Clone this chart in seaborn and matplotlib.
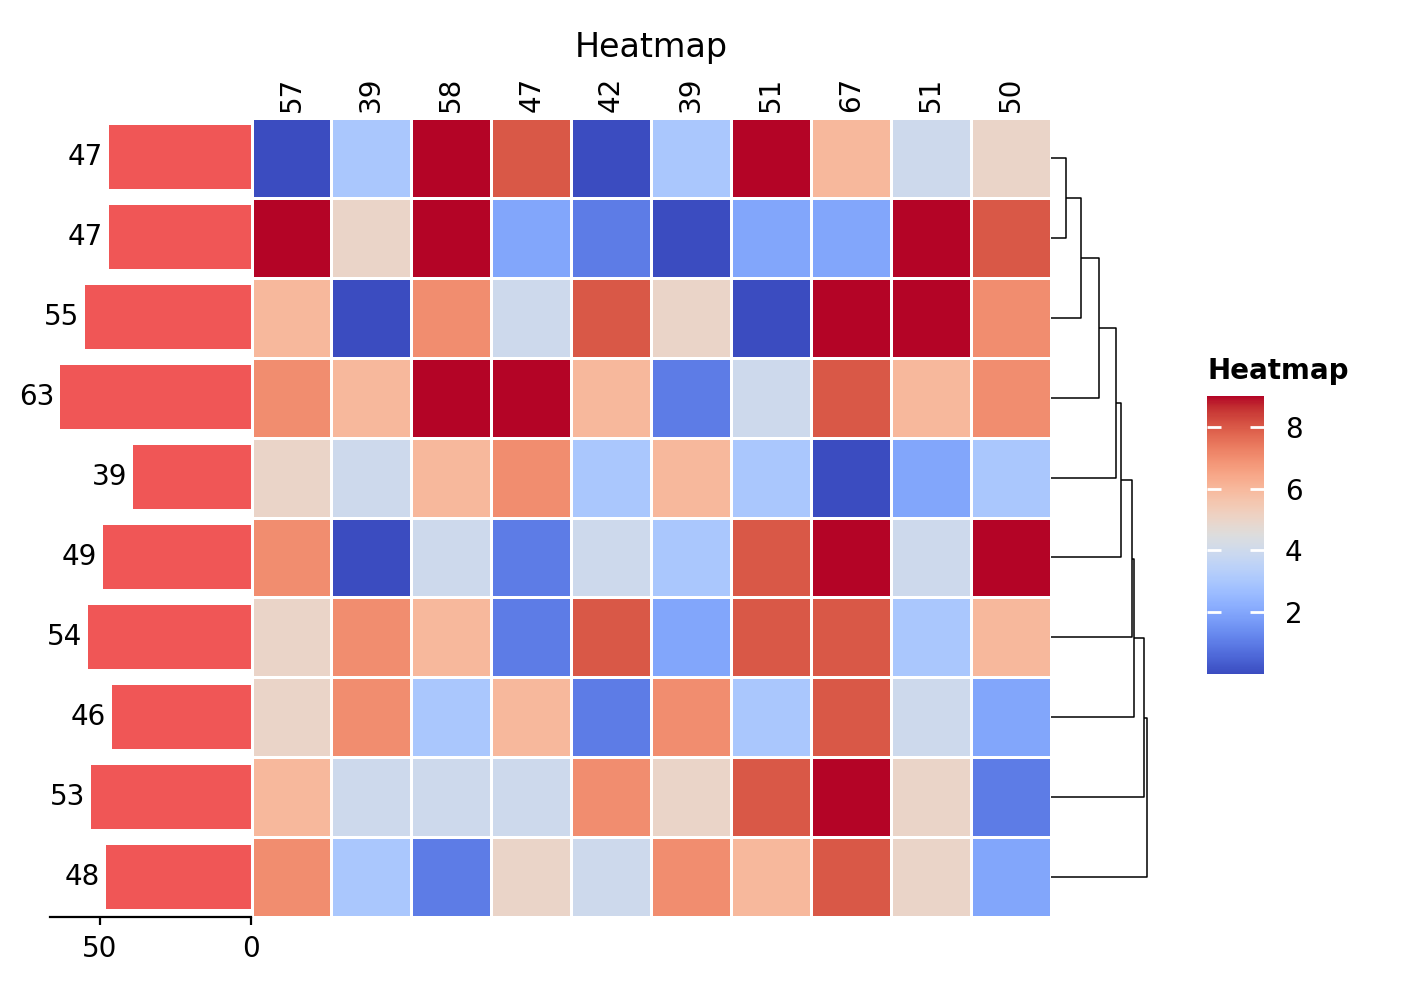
import numpy as np
import pandas as pd
import matplotlib
matplotlib.use("Agg")
import matplotlib.pyplot as plt
import seaborn as sns

# ---- data ----
matrix = [
    [0, 3, 9, 8, 0, 3, 9, 6, 4, 5],
    [9, 5, 9, 2, 1, 0, 2, 2, 9, 8],
    [6, 0, 7, 4, 8, 5, 0, 9, 9, 7],
    [7, 6, 9, 9, 6, 1, 4, 8, 6, 7],
    [5, 4, 6, 7, 3, 6, 3, 0, 2, 3],
    [7, 0, 4, 1, 4, 3, 8, 9, 4, 9],
    [5, 7, 6, 1, 8, 2, 8, 8, 3, 6],
    [5, 7, 3, 6, 1, 7, 3, 8, 4, 2],
    [6, 4, 4, 4, 7, 5, 8, 9, 5, 1],
    [7, 3, 1, 5, 4, 7, 6, 8, 5, 2],
]
row_sums = [47, 47, 55, 63, 39, 49, 54, 46, 53, 48]
col_sums = [57, 39, 58, 47, 42, 39, 51, 67, 51, 50]
# row dendrogram linkage: (node a, node b, merge height)
linkage = [
    (0, 1, 15.7),
    (10, 2, 30.0),
    (11, 3, 48.3),
    (12, 4, 65.3),
    (13, 5, 70.3),
    (14, 6, 81.0),
    (15, 7, 83.3),
    (16, 8, 93.3),
    (17, 9, 96.0),
]
cbar_ticks = [2, 4, 6, 8]
bar_ticks = [0, 50]
title = "Heatmap"
bar_color = "#F05656"

W, H = 1424, 984
fig = plt.figure(figsize=(W / 200, H / 200), dpi=200)

def box(x0, y0, x1, y1):
    return [x0 / W, 1 - y1 / H, (x1 - x0) / W, (y1 - y0) / H]

ax_hm = fig.add_axes(box(251.5, 118, 1050.5, 917))
ax_bar = fig.add_axes(box(50, 117, 251, 916.5))
ax_den = fig.add_axes(box(1050.5, 118, 1150.5, 917))
cax = fig.add_axes(box(1207, 396, 1264, 674))

df = pd.DataFrame(matrix)
sns.heatmap(df, ax=ax_hm, cmap="coolwarm", vmin=0, vmax=9,
            linewidths=1, linecolor="white", cbar_ax=cax,
            xticklabels=col_sums, yticklabels=False)
ax_hm.xaxis.tick_top()
ax_hm.tick_params(axis="x", length=0, pad=2, labelsize=10, labelrotation=90)
ax_hm.set_xlabel("")
ax_hm.set_ylabel("")

# colorbar
cbar = ax_hm.collections[0].colorbar
cbar.set_ticks(cbar_ticks)
cbar.outline.set_visible(False)
cax.tick_params(direction="in", colors="white", length=5, width=1,
                left=True, right=True, labelleft=False, labelright=True,
                pad=7.5, labelsize=10, labelcolor="black")
cax.text(0, 1.04, title, transform=cax.transAxes, ha="left", va="bottom",
         fontsize=10, fontweight="bold")

# left bar chart
bdf = pd.DataFrame({"row": [str(i) for i in range(len(row_sums))], "val": row_sums})
sns.barplot(data=bdf, x="val", y="row", orient="h", color=bar_color,
            width=0.8, ax=ax_bar, saturation=1)
ax_bar.set_ylim(len(row_sums) - 0.5, -0.5)
ax_bar.set_xlim(max(row_sums) * 1.055, 0)
ax_bar.bar_label(ax_bar.containers[0], labels=[str(v) for v in row_sums],
                 padding=2, fontsize=10)
ax_bar.set_xticks(bar_ticks)
ax_bar.set_yticks([])
ax_bar.set_xlabel("")
ax_bar.set_ylabel("")
for s in ["left", "top", "right"]:
    ax_bar.spines[s].set_visible(False)
ax_bar.spines["bottom"].set_linewidth(0.8)
ax_bar.tick_params(axis="x", length=3, width=0.8, labelsize=10)

# dendrogram
n = len(row_sums)
pos = {i: i + 0.5 for i in range(n)}
hgt = {i: 0.0 for i in range(n)}
for k, (a, b, h) in enumerate(linkage):
    node = n + k
    ax_den.plot([hgt[a], h, h, hgt[b]], [pos[a], pos[a], pos[b], pos[b]],
                color="black", lw=0.55, solid_capstyle="butt")
    pos[node] = (pos[a] + pos[b]) / 2
    hgt[node] = h
ax_den.set_ylim(n, 0)
ax_den.set_xlim(0, 100)
ax_den.axis("off")

fig.text(651 / W, 1 - 57 / H, title, ha="center", va="baseline", fontsize=12)

fig.savefig("out.png", dpi=200)
